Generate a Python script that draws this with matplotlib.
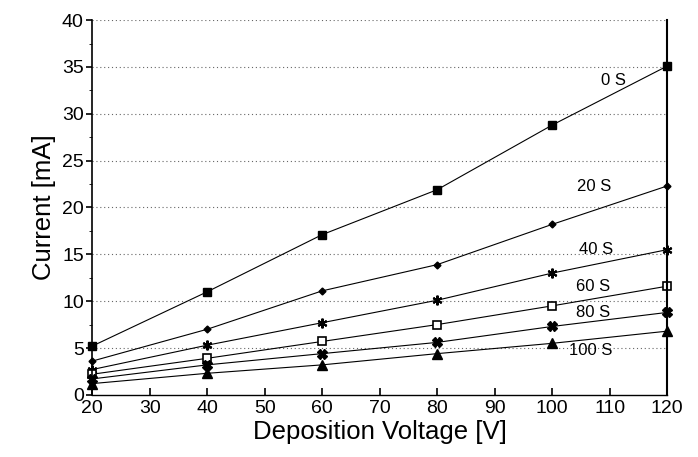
import matplotlib.pyplot as plt
from matplotlib.ticker import MultipleLocator

voltage = [20, 40, 60, 80, 100, 120]
series_labels = ['0 S', '20 S', '40 S', '60 S', '80 S', '100 S']
current_0s = [5.2, 11.0, 17.1, 21.9, 28.8, 35.1]
current_20s = [3.6, 7.0, 11.1, 13.9, 18.2, 22.3]
current_40s = [2.7, 5.3, 7.7, 10.1, 13.0, 15.5]
current_60s = [2.2, 3.9, 5.7, 7.5, 9.5, 11.6]
current_80s = [1.7, 3.2, 4.4, 5.6, 7.3, 8.8]
current_100s = [1.2, 2.3, 3.2, 4.4, 5.5, 6.8]

label_pos = [(110.6, 33.6), (107.3, 22.2), (107.6, 15.5),
             (107.1, 11.6), (107.1, 8.75), (106.6, 4.7)]

plt.rcParams['font.family'] = ['Liberation Sans', 'DejaVu Sans']

fig = plt.figure(figsize=(6.98, 4.57), dpi=100)
ax = fig.add_axes([0.132, 0.136, 0.824, 0.820])

series = [current_0s, current_20s, current_40s, current_60s, current_80s, current_100s]
markers = [dict(marker='s', ms=6, mfc='black'),
           dict(marker='D', ms=3.5, mfc='black'),
           dict(marker=(6, 2, 0), ms=7, mew=1.5),
           dict(marker='s', ms=6, mfc='white', mew=1.2),
           dict(marker='X', ms=7, mfc='black'),
           dict(marker='^', ms=7, mfc='black')]

for ys, mk, lab, pos in zip(series, markers, series_labels, label_pos):
    ax.plot(voltage, ys, color='black', lw=0.8, mec='black', clip_on=False, **mk)
    ax.text(pos[0], pos[1], lab, fontsize=12, ha='center', va='center')

for yv in range(5, 41, 5):
    ax.axhline(yv, color='#666666', lw=0.8, ls=(0, (1, 2.5)), zorder=0)

ax.set_xlim(20, 120)
ax.set_ylim(0, 40)
ax.xaxis.set_major_locator(MultipleLocator(10))
ax.yaxis.set_major_locator(MultipleLocator(5))
ax.yaxis.set_minor_locator(MultipleLocator(2.5))
ax.tick_params(axis='x', direction='in', length=5, labelsize=14, width=1.2, pad=4)
ax.tick_params(axis='y', which='major', direction='out', length=4, labelsize=14, width=1.2, pad=2)
ax.tick_params(axis='y', which='minor', direction='out', length=2)
ax.spines['top'].set_visible(False)
ax.spines['left'].set_linewidth(1.2)
ax.spines['right'].set_linewidth(1.5)
ax.spines['bottom'].set_linewidth(1.0)

ax.set_xlabel('Deposition Voltage [V]', fontsize=18.5, labelpad=2)
ax.set_ylabel('Current [mA]', fontsize=18.5, labelpad=4)

fig.savefig('out.png', dpi=100)
